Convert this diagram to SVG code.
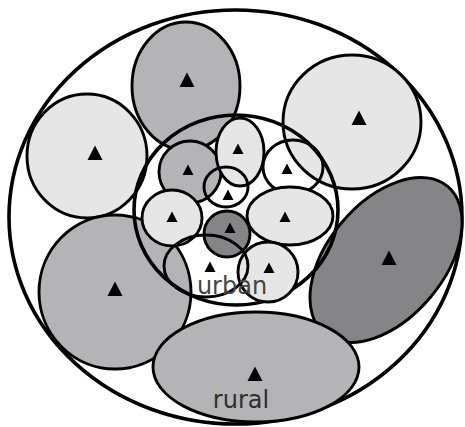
<svg xmlns="http://www.w3.org/2000/svg" xmlns:xlink="http://www.w3.org/1999/xlink" width="465" height="427" viewBox="0 0 465 427">
<style>
.s{stroke:#000;stroke-width:2.9}
.b{stroke:#000;stroke-width:3.6}
.lt{fill:#e6e6e6}
.md{fill:#b4b3b6}
.dk{fill:#858487}
.no{fill:none}
.wh{fill:#fff}
.lbl{font-family:"DejaVu Sans","Liberation Sans",sans-serif;font-size:24px;text-anchor:middle}
</style>
<defs>
<path id="tb" d="M0,-7.5 L7.5,7 L-7.5,7Z" fill="#000"/>
<path id="ts" d="M0,-5.5 L5.5,5 L-5.5,5Z" fill="#000"/>
</defs>
<rect width="465" height="427" fill="#fff"/>
<g id="outer"><ellipse class="b wh" cx="235.5" cy="217" rx="226.5" ry="207"/></g>
<g id="left-light"><ellipse class="s lt" cx="87" cy="156" rx="60" ry="62"/><use xlink:href="#tb" x="95" y="153"/></g>
<g id="top-gray"><ellipse class="s md" cx="186" cy="86" rx="54" ry="64"/><use xlink:href="#tb" x="187" y="80"/></g>
<g id="topright-light"><ellipse class="s lt" cx="352" cy="122" rx="69" ry="67"/><use xlink:href="#tb" x="359" y="118"/></g>
<g id="leftbottom-gray"><ellipse class="s md" cx="115" cy="292" rx="76" ry="77"/><use xlink:href="#tb" x="115" y="289"/></g>
<g id="right-dark"><ellipse class="s dk" cx="386" cy="260" rx="96" ry="58" transform="rotate(-50 386 260)"/><use xlink:href="#tb" x="389" y="258"/></g>
<g id="rural"><ellipse class="s md" cx="256" cy="367" rx="103" ry="55"/><use xlink:href="#tb" x="255" y="374"/><text class="lbl" x="241" y="408" fill="#2e2e2e">rural</text></g>
<g id="urban"><ellipse class="b no" cx="236" cy="210" rx="102" ry="95"/></g>
<g id="u-gray"><circle class="s md" cx="190" cy="172" r="31"/><use xlink:href="#ts" x="188" y="170"/></g>
<g id="u-top"><ellipse class="s lt" cx="240" cy="152" rx="24" ry="34"/><use xlink:href="#ts" x="238" y="149"/></g>
<g id="u-topright"><ellipse class="s no" cx="293" cy="167" rx="30" ry="27"/><use xlink:href="#ts" x="287" y="169"/></g>
<g id="u-left"><ellipse class="s lt" cx="172" cy="218" rx="30" ry="28"/><use xlink:href="#ts" x="172" y="217"/></g>
<g id="u-right"><ellipse class="s lt" cx="290" cy="216" rx="43" ry="29"/><use xlink:href="#ts" x="285" y="217"/></g>
<g id="u-botright"><ellipse class="s lt" cx="268" cy="272" rx="30" ry="30"/><use xlink:href="#ts" x="269" y="268"/></g>
<g id="u-center"><circle class="s dk" cx="227" cy="234" r="23"/><use xlink:href="#ts" x="230" y="228"/></g>
<g id="u-small"><ellipse class="s no" cx="226" cy="187" rx="22" ry="20"/><use xlink:href="#ts" x="228" y="195"/></g>
<g id="u-botleft"><ellipse class="s no" cx="206" cy="266" rx="42" ry="31"/><use xlink:href="#ts" x="210" y="267"/></g>
<text class="lbl" x="232" y="294" fill="#444">urban</text>
</svg>
